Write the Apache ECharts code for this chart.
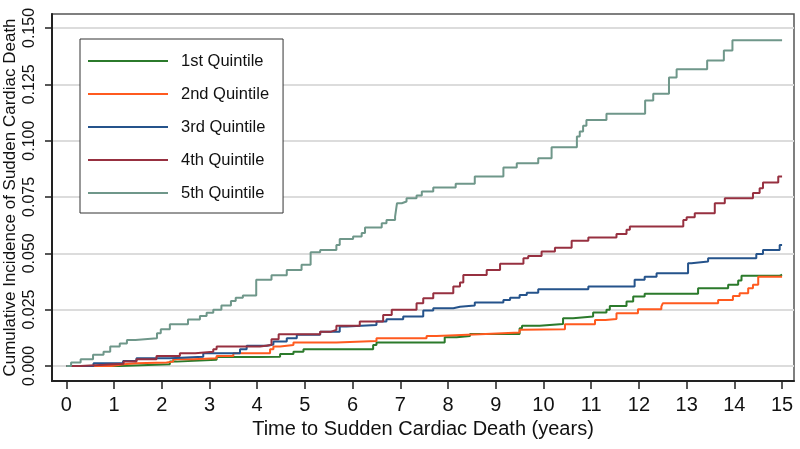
<!DOCTYPE html>
<html>
<head>
<meta charset="utf-8">
<script src="https://cdn.jsdelivr.net/npm/echarts@6/dist/echarts.min.js"></script>
<style>html,body{margin:0;padding:0;background:#fff}#c{width:800px;height:449px}</style>
</head>
<body>
<div id="c"></div>
<script>
var seriesNames = ['1st Quintile', '2nd Quintile', '3rd Quintile', '4th Quintile', '5th Quintile'];
var xTicks = [0,1,2,3,4,5,6,7,8,9,10,11,12,13,14,15];
var yTicks = [0, 0.025, 0.05, 0.075, 0.1, 0.125, 0.15];

var q1 = [[0,0],[1.12,0.0007],[2.17,0.0019],[2.31,0.0027],[3.15,0.0039],[4.0,0.0041],[4.48,0.0053],[4.76,0.0063],[4.97,0.0074],[6.43,0.0093],[6.5,0.0104],[7.93,0.0127],[8.18,0.0133],[8.46,0.0142],[9.5,0.0167],[9.55,0.0178],[9.92,0.0186],[10.41,0.0212],[10.62,0.0219],[11.04,0.0237],[11.32,0.0249],[11.39,0.0266],[11.74,0.0286],[11.88,0.0308],[12.12,0.032],[13.24,0.0345],[13.87,0.036],[14.08,0.0379],[14.15,0.040],[14.95,0.0405],[15,0.0405]];
var q2 = [[0,0],[0.95,0.0007],[1.2,0.0012],[1.47,0.0015],[2.1,0.0019],[2.24,0.003],[2.66,0.0034],[3.15,0.0044],[3.5,0.0056],[4.27,0.0074],[4.34,0.0086],[4.48,0.0093],[4.76,0.0104],[5.66,0.0111],[6.5,0.0123],[7.55,0.0133],[7.76,0.014],[8.67,0.0148],[9.5,0.016],[9.55,0.0163],[10.45,0.0185],[11.08,0.0204],[11.3,0.0208],[11.53,0.0234],[11.98,0.0252],[12.47,0.0263],[12.5,0.0278],[13.66,0.0293],[13.97,0.031],[14.11,0.0323],[14.29,0.0345],[14.39,0.036],[14.5,0.0396],[15,0.0396]];
var q3 = [[0,0],[0.57,0.0012],[1.19,0.0022],[1.47,0.0034],[2.17,0.0041],[2.87,0.0056],[3.64,0.0074],[3.78,0.0089],[4.2,0.0095],[4.34,0.0108],[4.62,0.0123],[4.83,0.0138],[5.32,0.0152],[5.73,0.0175],[5.87,0.0182],[6.5,0.0197],[6.71,0.0207],[7.06,0.0219],[7.48,0.0246],[7.69,0.0256],[8.11,0.0263],[8.25,0.0268],[8.56,0.0281],[9.16,0.0293],[9.3,0.0303],[9.5,0.0315],[9.65,0.0325],[9.89,0.034],[10.94,0.0352],[11.91,0.0382],[12.12,0.0396],[12.37,0.0411],[13.03,0.0456],[13.1,0.0463],[13.45,0.0478],[14.46,0.0497],[14.6,0.0515],[14.95,0.0537],[15,0.0537]];
var q4 = [[0,0],[0.3,0.0005],[0.8,0.001],[1.2,0.0019],[1.47,0.003],[1.89,0.0044],[2.38,0.0056],[2.7,0.0063],[3.08,0.0074],[3.15,0.0086],[4.06,0.0093],[4.3,0.0118],[4.45,0.014],[5.32,0.0152],[5.55,0.016],[5.66,0.0178],[6.15,0.0197],[6.64,0.0226],[6.82,0.0249],[7.34,0.0278],[7.48,0.030],[7.69,0.0323],[8.11,0.0352],[8.25,0.037],[8.32,0.0404],[8.81,0.0426],[9.09,0.0453],[9.58,0.0478],[9.68,0.0488],[9.96,0.0508],[10.24,0.0525],[10.59,0.0556],[10.94,0.057],[11.53,0.0585],[11.74,0.0604],[11.81,0.0619],[12.93,0.0648],[13.0,0.066],[13.17,0.0678],[13.59,0.0722],[13.8,0.0744],[14.39,0.0767],[14.53,0.0789],[14.6,0.0814],[14.92,0.0841],[15,0.0841]];
var q5 = [[0,0],[0.1,0.0015],[0.3,0.003],[0.56,0.0049],[0.78,0.0063],[0.92,0.0086],[1.12,0.010],[1.27,0.0115],[1.45,0.0123],[1.9,0.0145],[1.98,0.0163],[2.17,0.0185],[2.55,0.0206],[2.8,0.0222],[2.94,0.0236],[3.08,0.0249],[3.25,0.0268],[3.45,0.0288],[3.55,0.0302],[3.7,0.0313],[3.98,0.0382],[4.3,0.0402],[4.62,0.0426],[4.93,0.0449],[5.12,0.0504],[5.32,0.0515],[5.66,0.0537],[5.73,0.0563],[6.01,0.0574],[6.19,0.059],[6.26,0.0614],[6.61,0.0633],[6.71,0.0648],[6.89,0.0663],[6.93,0.0722],[7.03,0.073],[7.13,0.0744],[7.34,0.0756],[7.45,0.0774],[7.69,0.0792],[8.16,0.0808],[8.56,0.0841],[9.16,0.0881],[9.44,0.090],[9.89,0.0922],[10.17,0.097],[10.7,0.1018],[10.76,0.104],[10.83,0.1066],[10.9,0.1092],[11.32,0.1119],[12.13,0.1178],[12.3,0.1208],[12.63,0.128],[12.79,0.1317],[13.43,0.1356],[13.78,0.14],[13.96,0.1445],[15,0.1445]];

var colors = ['#2b7a2b', '#ff5a1f', '#25538b', '#973040', '#6f978a'];
var allData = [q1, q2, q3, q4, q5];

var chart = echarts.init(document.getElementById('c'), null, {renderer: 'canvas'});
var font = 'Arial, "Liberation Sans", sans-serif';

var series = seriesNames.map(function (name, i) {
  return {
    name: name,
    type: 'line',
    step: 'end',
    showSymbol: false,
    symbol: 'none',
    data: allData[i],
    lineStyle: {color: colors[i], width: 2},
    itemStyle: {color: colors[i]},
    z: 3 + i,
    animation: false
  };
});

chart.setOption({
  animation: false,
  color: colors,
  grid: {left: 52, right: 6, top: 14, bottom: 68, containLabel: false, outerBoundsMode: 'none',
    show: true, borderColor: '#555', borderWidth: 1.5, backgroundColor: 'transparent'},
  legend: {
    orient: 'vertical',
    left: 80, top: 39,
    padding: [12, 14, 10, 8],
    borderColor: '#333', borderWidth: 1,
    backgroundColor: '#fff',
    icon: 'rect',
    itemWidth: 80, itemHeight: 2,
    itemGap: 13,
    data: seriesNames,
    textStyle: {fontFamily: font, fontSize: 16.5, color: '#111', lineHeight: 20, padding: [0, 0, 0, 8]}
  },
  xAxis: {
    type: 'value',
    min: -0.3, max: 15.25,
    name: 'Time to Sudden Cardiac Death (years)',
    nameLocation: 'middle',
    nameGap: 38,
    nameMoveOverlap: false,
    nameTextStyle: {fontFamily: font, fontSize: 20, color: '#111'},
    axisLine: {show: true, onZero: false, lineStyle: {color: '#222', width: 2}},
    axisTick: {show: true, length: 8, lineStyle: {color: '#222', width: 1.5}, customValues: xTicks},
    axisLabel: {customValues: xTicks, fontFamily: font, fontSize: 20, color: '#111', margin: 14},
    splitLine: {show: false}
  },
  yAxis: {
    type: 'value',
    min: -0.0067, max: 0.1562,
    name: 'Cumulative Incidence of Sudden Cardiac Death',
    nameLocation: 'middle',
    nameGap: 33,
    nameMoveOverlap: false,
    nameTextStyle: {fontFamily: font, fontSize: 17, color: '#111'},
    axisLine: {show: true, onZero: false, lineStyle: {color: '#222', width: 2}},
    axisTick: {show: true, length: 7, lineStyle: {color: '#222', width: 1.5}, customValues: yTicks},
    axisLabel: {customValues: yTicks, rotate: 90, fontFamily: font, fontSize: 16, color: '#111', margin: 14,
      formatter: function (v) { return v.toFixed(3); }},
    splitLine: {show: true, lineStyle: {color: '#dcdcdc', width: 2}}
  },
  series: series
});
</script>
</body>
</html>
